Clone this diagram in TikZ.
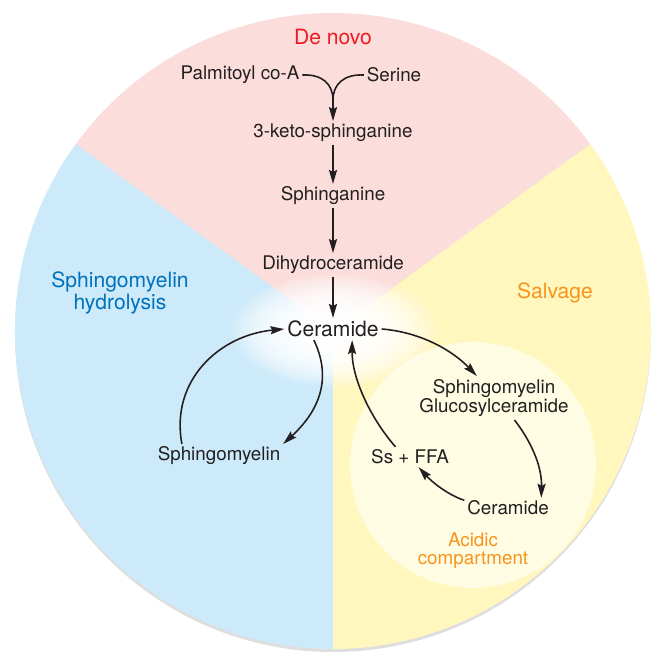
\documentclass[tikz,border=0pt]{standalone}
\usepackage{fontspec}
\setmainfont{TeX Gyre Heros}
\usetikzlibrary{arrows.meta,fadings}

\definecolor{novopink}{RGB}{251,221,220}
\definecolor{hydroblue}{RGB}{204,234,250}
\definecolor{salvyellow}{RGB}{255,247,190}
\definecolor{acidcream}{RGB}{255,252,228}
\definecolor{novored}{RGB}{237,28,36}
\definecolor{hydrotext}{RGB}{0,114,188}
\definecolor{salvorange}{RGB}{247,148,29}
\definecolor{inktext}{RGB}{35,31,32}

\tikzset{
	lbl/.style={text=inktext,inner sep=1.5pt,font=\fontsize{10.7}{10.3}\selectfont,align=center},
	ttl/.style={inner sep=1.5pt,font=\fontsize{12}{12.5}\selectfont,align=center},
	link/.style={draw=inktext,line width=0.9pt},
	flow/.style={link,-{Stealth[length=8pt,width=4.6pt,inset=1.2pt]}}
}
\tikzfading[name=glowfade,inner color=transparent!0,outer color=transparent!100]

\begin{document}
\begin{tikzpicture}[x=0.02cm,y=-0.02cm]
			\useasboundingbox (0,0) rectangle (652,653);
			\coordinate (hub) at (333,331);
			
			\fill[black,opacity=.13] (333,334) circle[radius=318];
			\fill[novopink] (hub) -- ++(-36:318) arc[start angle=-36,end angle=-144,radius=318] -- cycle;
			\fill[hydroblue] (hub) -- ++(-144:318) arc[start angle=-144,end angle=-270,radius=318] -- cycle;
			\fill[salvyellow] (hub) -- ++(-36:318) arc[start angle=-36,end angle=90,radius=318] -- cycle;
			\fill[acidcream] (473,465) circle[radius=123];
			\foreach \k in {1,2,3}
				\fill[white,path fading=glowfade] (333,330) ellipse[x radius=105,y radius=58];
			
			\node[ttl,text=novored] (denovo) at (333,37) {De novo};
			\node[ttl,text=hydrotext] (smhydro) at (120,293) {Sphingomyelin\\hydrolysis};
			\node[ttl,text=salvorange] (salvage) at (555,293) {Salvage};
			
			\node[lbl] (palm) at (240,75) {Palmitoyl co-A};
			\node[lbl] (serine) at (394,75) {Serine};
			\node[lbl] (keto) at (333,133) {3-keto-sphinganine};
			\node[lbl] (sphinga) at (333,196) {Sphinganine};
			\node[lbl] (dihydro) at (333,265) {Dihydroceramide};
			\node[ttl,text=inktext] (cer) at (333,329) {Ceramide};
			\node[lbl] (sm) at (219,456) {Sphingomyelin};
			\node[lbl] (smglc) at (494,398) {Sphingomyelin\\Glucosylceramide};
			\node[lbl] (acidcer) at (508,508) {Ceramide};
			\node[lbl] (ssffa) at (410,457) {Ss + FFA};
			\node[lbl,text=salvorange] (acidic) at (473,551) {Acidic\\compartment};
			\coordinate (merge) at (333,100);
			
			\draw[link] (palm.east) .. controls (322,74) and (333,84) .. (merge);
			\draw[link] (serine.west) .. controls (344,74) and (333,84) .. (merge);
			\draw[flow] (merge) -- (keto);
			\draw[flow] (keto) -- (sphinga);
			\draw[flow] (sphinga) -- (dihydro);
			\draw[flow] (dihydro) -- (cer);
			\draw[flow] (sm.162) .. controls (170,380) and (220,335) .. (cer.west);
			\draw[flow] (cer.210) .. controls (332,378) and (320,410) .. (sm.north east);
			\draw[flow] (cer.east) .. controls (420,332) and (452,350) .. (smglc.128);
			\draw[flow] (smglc.-47) .. controls (530,440) and (542,465) .. (acidcer.17);
			\draw[flow] (acidcer.170) .. controls (448,495) and (432,482) .. (ssffa.-50);
			\draw[flow] (ssffa.145) .. controls (372,420) and (352,380) .. (cer.-30);
		  \end{tikzpicture}
\end{document}
